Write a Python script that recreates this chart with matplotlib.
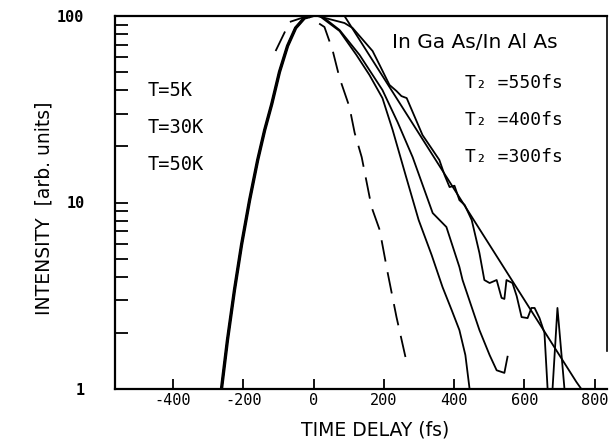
import matplotlib.pyplot as plt
from matplotlib.ticker import FixedLocator, NullFormatter

plt.rcParams['axes.unicode_minus'] = False

# shared leading edge of all traces (time in fs, intensity in arb. units)
rise_t = [-262, -245, -225, -205, -182, -159, -139, -119, -97, -74, -51, -26, -6]
rise_i = [1.0, 1.83, 3.40, 5.92, 10.3, 16.9, 24.5, 33.7, 50.1, 69.1, 86.3, 97.6, 100]

# calculated decay, T2 = 550 fs (single exponential)
fit550_t = [31, 88, 748, 762]
fit550_i = [100, 100, 1.09, 1.0]

# measured decay at 5 K
data5k_t = [11, 88, 111, 168, 188, 216, 236, 250, 265, 310, 339, 358, 373, 387, 401,
            415, 430, 450, 472, 486, 501, 521, 535, 543, 549, 566, 578, 592, 609,
            620, 629, 643, 657, 666, 680, 694, 714]
data5k_i = [100, 91.7, 86.3, 64.9, 54.6, 42.7, 39.6, 37.2, 36.3, 23.0, 19.1, 16.9, 14.0,
            12.1, 12.3, 10.3, 9.70, 8.06, 5.36, 3.84, 3.70, 3.84, 3.08, 3.04, 3.84, 3.70,
            3.15, 2.43, 2.40, 2.72, 2.72, 2.40, 2.00, 1.0, 1.0, 2.72, 1.0]

# measured decay at 30 K
data30k_t = [23, 74, 131, 196, 239, 282, 339, 378, 415, 424, 472, 501, 521, 543, 552]
data30k_i = [100, 84.1, 61.8, 40.1, 27.0, 17.5, 8.78, 7.39, 4.51, 3.84, 2.07, 1.52,
             1.26, 1.22, 1.49]

# decay at 50 K
data50k_t = [17, 74, 122, 159, 196, 225, 262, 299, 336, 367, 393, 415, 432, 444]
data50k_i = [100, 83.1, 61.8, 48.3, 36.3, 24.5, 14.0, 8.06, 5.23, 3.52, 2.65, 2.07,
             1.52, 1.0]

# laser pulse autocorrelation
pulse_t = [-108, -68, -17, 31, 54, 74, 102, 117, 137, 165, 188, 211, 236, 262]
pulse_i = [64.9, 92.9, 100, 87.3, 65.7, 46.5, 32.6, 23.6, 17.5, 9.46, 7.14, 4.19,
           2.43, 1.47]

xticks = [-400, -200, 0, 200, 400, 600, 800]

fig = plt.figure(figsize=(6.13, 4.43), dpi=100)
ax = fig.add_axes([115 / 613, 1 - 389 / 443, (607 - 115) / 613, (389 - 16) / 443])

lw = 1.3
for t, i in [(fit550_t, fit550_i), (data5k_t, data5k_i),
             (data30k_t, data30k_i), (data50k_t, data50k_i)]:
    ax.plot(rise_t + t, rise_i + i, color='black', lw=lw)
ax.plot(rise_t, rise_i, color='black', lw=2.4)
ax.plot(pulse_t, pulse_i, color='black', lw=lw, ls=(0, (12, 6)))

ax.set_yscale('log')
ax.set_xlim(-565, 835)
ax.set_ylim(1, 100)

ax.xaxis.set_major_locator(FixedLocator(xticks))
ax.set_xticklabels([str(v) for v in xticks], family='DejaVu Sans Mono', fontsize=11)
ax.yaxis.set_major_locator(FixedLocator([1, 10, 100]))
ax.set_yticklabels(['1', '10', '100'], family='DejaVu Sans Mono', fontsize=11,
                   fontweight='bold')
ax.yaxis.set_minor_locator(FixedLocator([2, 3, 4, 5, 6, 7, 8, 9,
                                         20, 30, 40, 50, 60, 70, 80, 90]))
ax.yaxis.set_minor_formatter(NullFormatter())
ax.tick_params(axis='x', which='both', direction='in', length=7, width=1.3, pad=3)
ax.tick_params(axis='y', which='both', direction='in', length=9, width=1.3, pad=22)

for s in ax.spines.values():
    s.set_linewidth(1.6)
ax.spines['right'].set_linewidth(1.2)
ax.spines['right'].set_bounds(1.6, 100)

fig.text(375 / 613, 1 - 430 / 443, 'TIME DELAY (fs)', ha='center', va='center',
         fontsize=13.5)
fig.text(44 / 613, 1 - 208 / 443, 'INTENSITY  [arb. units]', ha='center',
         va='center', rotation=90, fontsize=13.5)

for label, y in [('T=5K', 90), ('T=30K', 128), ('T=50K', 164)]:
    fig.text(148 / 613, 1 - y / 443, label, ha='left', va='center',
             family='DejaVu Sans Mono', fontsize=13.5)

fig.text(392 / 613, 1 - 43 / 443, 'In Ga As/In Al As', ha='left', va='center',
         fontsize=14.5)
for label, y in [('T₂ =550fs', 83), ('T₂ =400fs', 120), ('T₂ =300fs', 157)]:
    fig.text(465 / 613, 1 - y / 443, label, ha='left', va='center',
             family='DejaVu Sans Mono', fontsize=13)

fig.savefig('out.png', dpi=100)
